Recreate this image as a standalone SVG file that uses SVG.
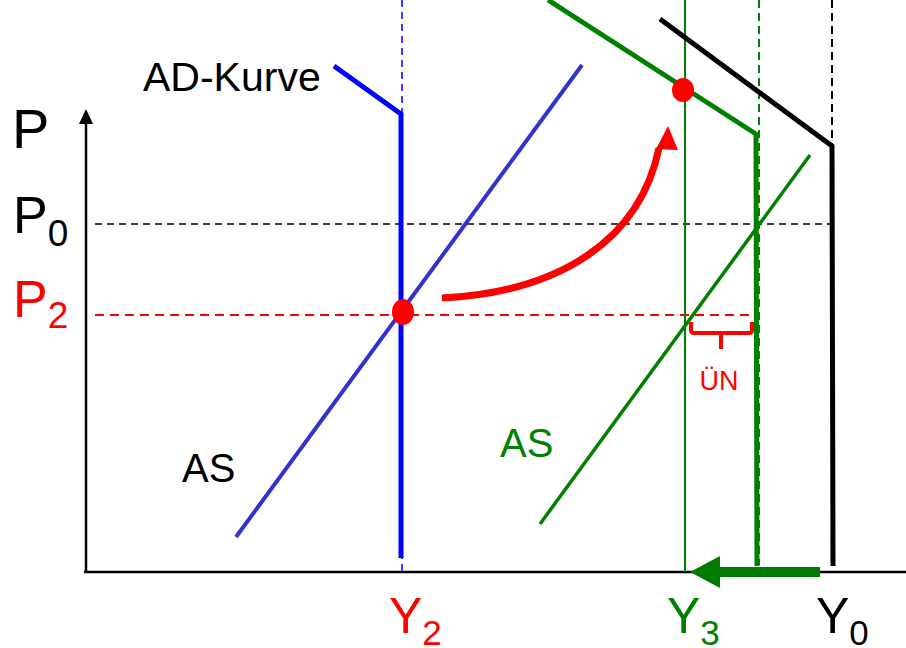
<svg xmlns="http://www.w3.org/2000/svg" width="906" height="648" viewBox="0 0 906 648">
<style>
text{font-family:"Liberation Sans",Arial,sans-serif}
.big{font-size:56px}
.lab{font-size:52px}
.sub{font-size:37px}
.ylab{font-size:50px}
.ysub{font-size:35px}
.ax{stroke:#000;stroke-width:2.5;fill:none}
</style>
<rect width="906" height="648" fill="#fff"/>
<g id="connectors">
<line x1="86" y1="573" x2="86" y2="122" class="ax"/>
<path d="M79,124 L86,109 L93,124 Z" fill="#000"/>
<line x1="84" y1="572" x2="906" y2="572" class="ax"/>
<line x1="95" y1="224" x2="833" y2="224" stroke="#000" stroke-width="1.5" stroke-dasharray="7,5"/>
<line x1="95" y1="315" x2="755" y2="315" stroke="#f00" stroke-width="2" stroke-dasharray="9,6"/>
<line x1="402" y1="0" x2="402" y2="572" stroke="#00f" stroke-width="1.5" stroke-dasharray="7,5"/>
<line x1="685" y1="0" x2="685" y2="572" stroke="#008000" stroke-width="2"/>
<line x1="759" y1="0" x2="759" y2="565" stroke="#008000" stroke-width="2" stroke-dasharray="8,5"/>
<line x1="832" y1="0" x2="832" y2="146" stroke="#000" stroke-width="2" stroke-dasharray="8,5"/>
</g>
<g id="as-blue"><line x1="236" y1="537" x2="582" y2="65" stroke="#3333cc" stroke-width="4"/></g>
<g id="ad-blue"><polyline points="334,66 401,114 401,558" fill="none" stroke="#00f" stroke-width="5"/></g>
<g id="ad-green"><polyline points="548,0 756,134 757,566" fill="none" stroke="#008000" stroke-width="5"/></g>
<g id="ad-black"><polyline points="660,19 832,146 833,566" fill="none" stroke="#000" stroke-width="5"/></g>
<g id="as-green"><line x1="540" y1="524" x2="810" y2="155" stroke="#008000" stroke-width="3.5"/></g>
<g id="dot2"><ellipse cx="403" cy="312" rx="11" ry="13" fill="#f00"/></g>
<g id="dot3"><ellipse cx="683" cy="90" rx="11" ry="12" fill="#f00"/></g>
<g id="shift-arrow">
<path d="M442,298 C560,292 640,240 659,148" fill="none" stroke="#f00" stroke-width="7"/>
<path d="M656,149 L668,126 L678,150 Z" fill="#f00"/>
</g>
<g id="un">
<path d="M691,322 L691,330 Q691,333 694,333 L749,333 Q752,333 752,330 L752,322 M721,333 L721,349" fill="none" stroke="#f00" stroke-width="4"/>
<text x="719" y="390" font-size="27" fill="#f00" text-anchor="middle">ÜN</text>
</g>
<g id="y-arrow">
<line x1="820" y1="572" x2="718" y2="572" stroke="#007a00" stroke-width="10"/>
<path d="M720,556 L690,572 L720,588 Z" fill="#007a00"/>
</g>
<g id="labels">
<text x="12" y="148" class="big">P</text>
<text x="13" y="233" class="lab">P<tspan class="sub" dy="13">0</tspan></text>
<text x="13" y="317" class="lab" fill="#f00">P<tspan class="sub" dy="11">2</tspan></text>
<text x="143" y="91" font-size="41">AD-Kurve</text>
<text x="182" y="482" font-size="40">AS</text>
<text x="500" y="457" font-size="40" fill="#008000">AS</text>
<text x="389" y="633" class="ylab" fill="#f00">Y<tspan class="ysub" dy="12">2</tspan></text>
<text x="667" y="633" class="ylab" fill="#008000">Y<tspan class="ysub" dy="12">3</tspan></text>
<text x="816" y="633" class="ylab">Y<tspan class="ysub" dy="12">0</tspan></text>
</g>
</svg>
